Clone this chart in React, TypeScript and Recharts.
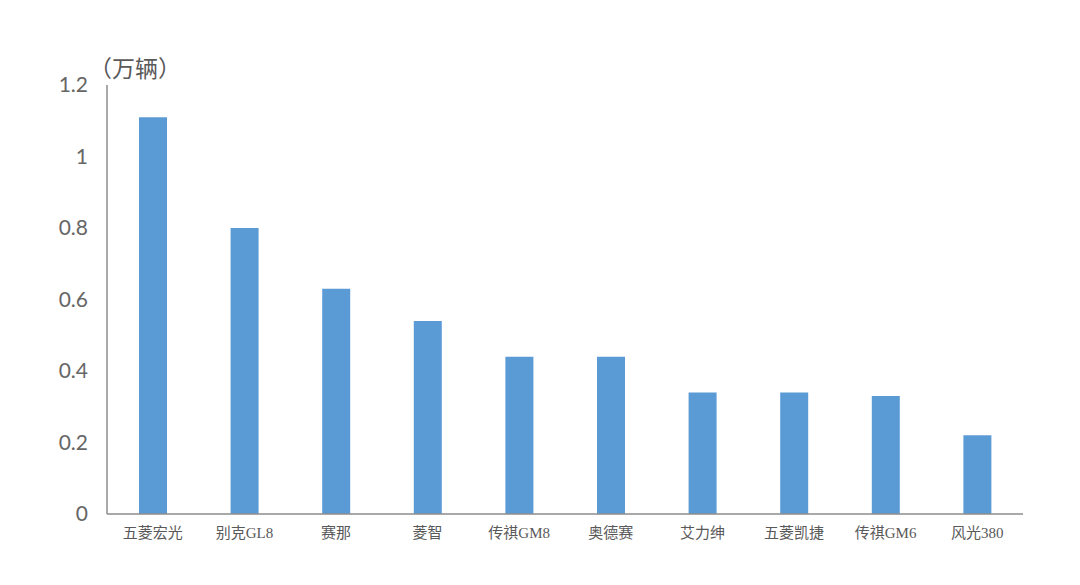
import React from 'react';
import { BarChart, Bar, XAxis, YAxis } from 'recharts';

const categories = ['五菱宏光', '别克GL8', '赛那', '菱智', '传祺GM8', '奥德赛', '艾力绅', '五菱凯捷', '传祺GM6', '风光380'];
const sales = [1.11, 0.8, 0.63, 0.54, 0.44, 0.44, 0.34, 0.34, 0.33, 0.22];
const yTicks = [0, 0.2, 0.4, 0.6, 0.8, 1, 1.2];
const unitLabel = '（万辆）';

const data = categories.map((name, i) => ({ name, value: sales[i] }));

const cjkSans = '"Noto Sans CJK SC", "Open Sans", sans-serif';
const cjkSerif = '"Liberation Serif", "Noto Sans CJK SC", serif';

export default function App() {
  return (
    <div style={{ position: 'absolute', left: 0, top: 0, width: 1080, height: 585, background: '#fff' }}>
      <div
        style={{
          position: 'absolute',
          left: 89,
          top: 54,
          fontFamily: cjkSans,
          fontSize: 23,
          lineHeight: '26px',
          color: '#595959',
          whiteSpace: 'nowrap',
        }}
      >
        {unitLabel}
      </div>
      <BarChart width={1080} height={585} data={data} margin={{ top: 85, right: 57, bottom: 0, left: 0 }}>
        <XAxis
          dataKey="name"
          tickLine={false}
          tickSize={0}
          tickMargin={13}
          height={71}
          axisLine={{ stroke: '#8c8c8c', strokeWidth: 1.5 }}
          tick={{ fill: '#595959', fontSize: 15, fontFamily: cjkSerif }}
          interval={0}
        />
        <YAxis
          domain={[0, 1.2]}
          ticks={yTicks}
          width={107}
          tickLine={false}
          tickSize={0}
          tickMargin={19}
          axisLine={{ stroke: '#8c8c8c', strokeWidth: 1.5 }}
          tick={{ fill: '#666666', fontSize: 21, fontFamily: 'Lato, "Open Sans", sans-serif' }}
        />
        <Bar dataKey="value" fill="#5B9BD5" barSize={28} isAnimationActive={false} />
      </BarChart>
    </div>
  );
}
